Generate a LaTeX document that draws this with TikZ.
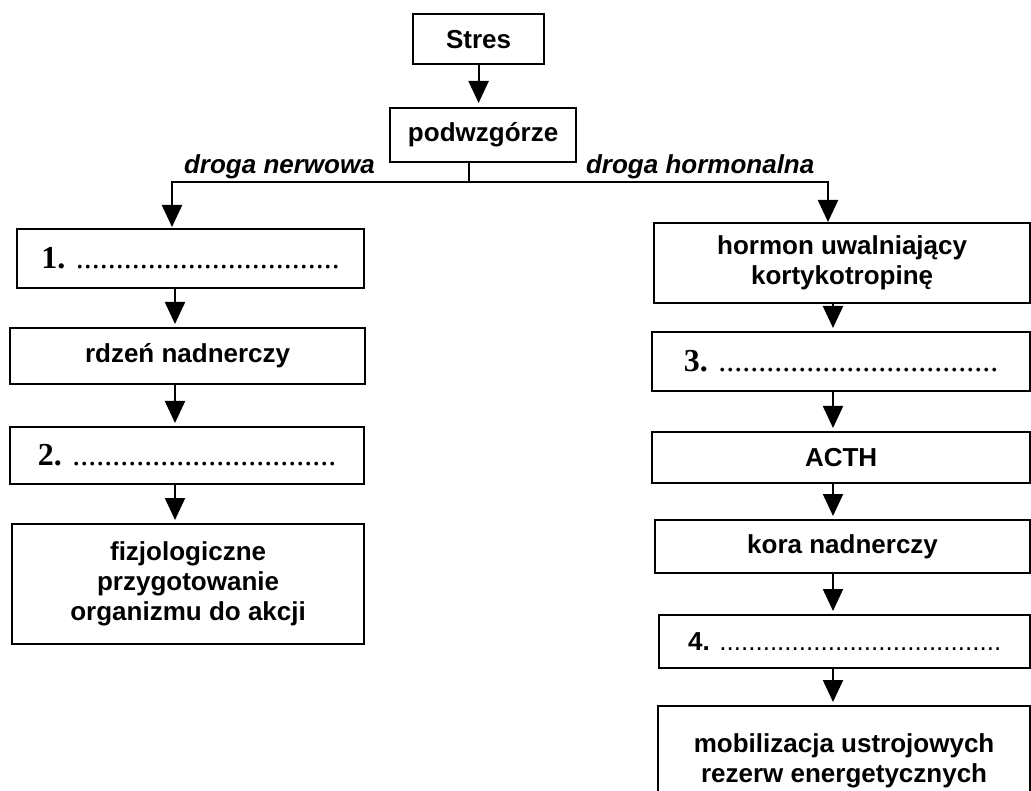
\documentclass[tikz,border=0pt]{standalone}
\usepackage{fontspec}
\setmainfont{Liberation Sans}
\newfontfamily\numfont{Liberation Serif}
\usetikzlibrary{arrows.meta}

\begin{document}
\begin{tikzpicture}[x=1pt, y=-1pt, line width=2.2pt,
    box/.style={draw, anchor=north west, align=center, inner sep=0pt,
      font=\fontsize{26}{30}\selectfont\bfseries},
    lbl/.style={anchor=base west, inner sep=0pt,
      font=\fontsize{26}{30}\selectfont\bfseries\itshape},
    arr/.style={-{Triangle[length=22pt,width=20pt]}, shorten >=3pt}]
  \useasboundingbox (0,0) rectangle (1031,791);
  % top
  \node [box, minimum width=131, minimum height=50] (stres) at (412,13) {Stres};
  \node [box, minimum width=186, minimum height=54] (podw) at (389,107) {podwzgórze};
  % droga nerwowa
  \node [box, minimum width=347, minimum height=59] (b1) at (16,228)
    {\numfont\fontsize{32}{36}\selectfont 1. {\mdseries .................................}};
  \node [box, minimum width=355, minimum height=56] (rdzen) at (9,327) {rdzeń nadnerczy};
  \node [box, minimum width=354, minimum height=57] (b2) at (9,426)
    {\numfont\fontsize{32}{36}\selectfont 2. {\mdseries .................................}};
  \node [box, minimum width=352, minimum height=120] (fizjo) at (11,523)
    {fizjologiczne\\przygotowanie\\organizmu do akcji};
  % droga hormonalna
  \node [box, minimum width=376, minimum height=80] (horm) at (653,222)
    {hormon uwalniający\\kortykotropinę};
  \node [box, minimum width=378, minimum height=59] (b3) at (651,331)
    {\numfont\fontsize{32}{36}\selectfont 3. {\mdseries ...................................}};
  \node [box, minimum width=378, minimum height=51] (acth) at (651,431) {ACTH};
  \node [box, minimum width=375, minimum height=53] (kora) at (654,519) {kora nadnerczy};
  \node [box, minimum width=371, minimum height=53] (b4) at (658,614)
    {4. {\mdseries .......................................}};
  \node [box, minimum width=372, minimum height=110] (mobil) at (657,705)
    {mobilizacja ustrojowych\\rezerw energetycznych};
  % labels
  \node [lbl] (lnerw) at (183,174) {droga nerwowa};
  \node [lbl] (lhorm) at (585,174) {droga hormonalna};

  \coordinate (split) at (469,182);
  \coordinate (lx0) at (172,0);
  \coordinate (rx0) at (828,0);
  \coordinate (lx) at (175,0);
  \coordinate (rx) at (833,0);

  \draw [arr, shorten >=4pt] (stres.south) -- (stres.south |- podw.north);
  \draw (podw.south -| split) -- (split);
  \draw [arr, shorten >=1pt] (split) -| (b1.north -| lx0);
  \draw [arr, shorten >=0pt] (split) -| (horm.north -| rx0);
  \path
  (b1.south -| lx) edge [arr] (rdzen.north -| lx)
  (rdzen.south -| lx) edge [arr] (b2.north -| lx)
  (b2.south -| lx) edge [arr] (fizjo.north -| lx)
  (horm.south -| rx) edge [arr] (b3.north -| rx)
  (b3.south -| rx) edge [arr] (acth.north -| rx)
  (acth.south -| rx) edge [arr] (kora.north -| rx)
  (kora.south -| rx) edge [arr] (b4.north -| rx)
  (b4.south -| rx) edge [arr] (mobil.north -| rx)
  ;
\end{tikzpicture}
\end{document}
